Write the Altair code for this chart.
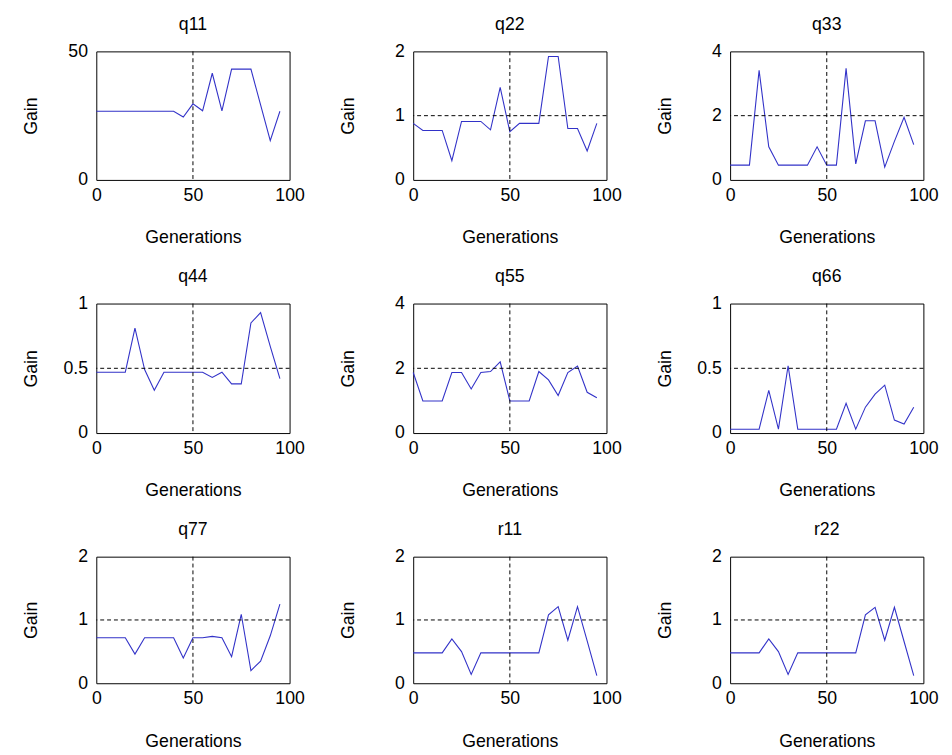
import altair as alt
import pandas as pd

generations = [0, 5, 10, 15, 20, 25, 30, 35, 40, 45, 50, 55, 60, 65, 70, 75, 80, 85, 90, 95]

q11 = [26.7, 26.7, 26.7, 26.7, 26.7, 26.7, 26.7, 26.7, 26.7, 24.5, 29.6, 26.9, 41.5, 26.9, 43.1, 43.1, 43.1, 29.2, 15.3, 26.7]
q22 = [0.88, 0.77, 0.77, 0.77, 0.30, 0.91, 0.91, 0.91, 0.78, 1.44, 0.75, 0.88, 0.88, 0.88, 1.92, 1.92, 0.80, 0.80, 0.45, 0.88]
q33 = [0.46, 0.46, 0.46, 3.41, 1.03, 0.46, 0.46, 0.46, 0.46, 1.03, 0.46, 0.46, 3.47, 0.50, 1.84, 1.84, 0.40, 1.20, 1.95, 1.10]
q44 = [0.47, 0.47, 0.47, 0.47, 0.81, 0.49, 0.33, 0.47, 0.47, 0.47, 0.47, 0.47, 0.43, 0.47, 0.38, 0.38, 0.85, 0.93, 0.67, 0.42]
q55 = [1.87, 0.99, 0.99, 0.99, 1.87, 1.87, 1.36, 1.87, 1.90, 2.20, 0.99, 0.99, 0.99, 1.90, 1.64, 1.16, 1.87, 2.07, 1.26, 1.09]
q66 = [0.03, 0.03, 0.03, 0.03, 0.33, 0.03, 0.52, 0.03, 0.03, 0.03, 0.03, 0.03, 0.23, 0.03, 0.20, 0.30, 0.37, 0.10, 0.07, 0.20]
q77 = [0.72, 0.72, 0.72, 0.72, 0.46, 0.72, 0.72, 0.72, 0.72, 0.40, 0.72, 0.72, 0.74, 0.72, 0.42, 1.09, 0.20, 0.35, 0.75, 1.25]
r11 = [0.48, 0.48, 0.48, 0.48, 0.70, 0.50, 0.14, 0.48, 0.48, 0.48, 0.48, 0.48, 0.48, 0.48, 1.08, 1.21, 0.68, 1.21, 0.67, 0.12]
r22 = [0.48, 0.48, 0.48, 0.48, 0.70, 0.50, 0.14, 0.48, 0.48, 0.48, 0.48, 0.48, 0.48, 0.48, 1.08, 1.20, 0.68, 1.20, 0.66, 0.12]

names = ["q11", "q22", "q33", "q44", "q55", "q66", "q77", "r11", "r22"]
series = [q11, q22, q33, q44, q55, q66, q77, r11, r22]
y_max = [50, 2, 4, 1, 4, 1, 2, 2, 2]
y_ticks = [[0, 50], [0, 1, 2], [0, 2, 4], [0, 0.5, 1], [0, 2, 4], [0, 0.5, 1], [0, 1, 2], [0, 1, 2], [0, 1, 2]]
h_ref = [None, 1, 2, 0.5, 2, 0.5, 1, 1, 1]
v_ref = 50
x_ticks = [0, 50, 100]

FONT = "Liberation Sans"
LINE_COLOR = "#3232c8"
row_heights = [131, 132, 129]


def panel(name, vals, ymax, ticks, href, height):
    df = pd.DataFrame({"Generations": generations, "Gain": vals})
    xdef = alt.X("Generations:Q",
                 scale=alt.Scale(domain=[0, 100], nice=False, zero=False),
                 axis=alt.Axis(values=x_ticks, title="Generations", format="~r"))
    ydef = alt.Y("Gain:Q",
                 scale=alt.Scale(domain=[0, ymax], nice=False, zero=False),
                 axis=alt.Axis(values=ticks, title="Gain", format="~r"))
    line = alt.Chart(df).mark_line(color=LINE_COLOR, strokeWidth=1.1).encode(x=xdef, y=ydef)
    vr = alt.Chart(pd.DataFrame({"Generations": [v_ref]})).mark_rule(
        color="black", strokeDash=[4, 3], strokeWidth=1).encode(x=xdef)
    layers = [line, vr]
    if href is not None:
        hr = alt.Chart(pd.DataFrame({"Gain": [href]})).mark_rule(
            color="black", strokeDash=[4, 3], strokeWidth=1).encode(y=ydef)
        layers.append(hr)
    return alt.layer(*layers).properties(
        width=197, height=height,
        title=alt.TitleParams(name, fontSize=18, font=FONT, fontWeight="normal",
                              color="black", offset=-9, baseline="bottom", frame="group"))


rows = []
for r in range(3):
    cells = [panel(names[i], series[i], y_max[i], y_ticks[i], h_ref[i], row_heights[r])
             for i in range(r * 3, r * 3 + 3)]
    rows.append(alt.hconcat(*cells, spacing=34))

chart = alt.vconcat(*rows, spacing=20).properties(
    padding={"left": 14, "top": 0, "right": 5, "bottom": 2}
).configure_view(
    stroke="black", strokeWidth=1
).configure_axis(
    grid=False, domain=False, ticks=False,
    labelFont=FONT, labelFontSize=18, labelColor="black", labelPadding=7,
    titleFont=FONT, titleFontSize=18, titleFontWeight="normal", titleColor="black",
    labelFlush=False, labelOverlap=False
).configure_axisY(
    minExtent=30, maxExtent=30, titlePadding=27, labelPadding=9
).configure_axisX(
    titlePadding=25
)

chart.save("out.html", embed_options={"renderer": "svg", "actions": False})
